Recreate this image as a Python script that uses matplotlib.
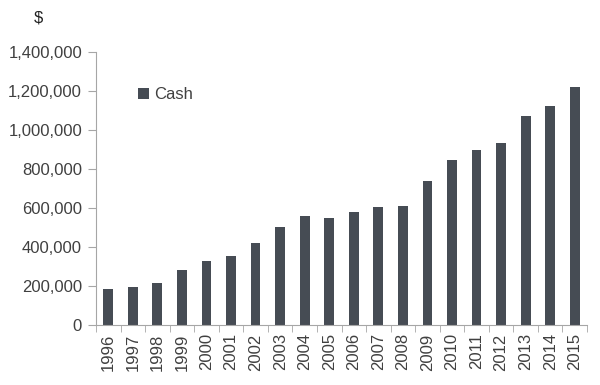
import matplotlib.pyplot as plt
import numpy as np
from matplotlib.ticker import FuncFormatter, MultipleLocator

YEARS = [str(y) for y in range(1996, 2016)]
CASH = [185000, 195000, 217000, 280000, 330000, 355000, 419000, 504000,
        559000, 549000, 578000, 607000, 610000, 738000, 848000, 899000,
        935000, 1070000, 1125000, 1219000]

BAR_COLOR = '#464c54'
TEXT_COLOR = '#404040'
AXIS_COLOR = '#a6a6a6'

plt.rcParams['font.family'] = ['Liberation Sans', 'DejaVu Sans']

fig = plt.figure(figsize=(6, 3.85), dpi=100)
ax = fig.add_axes([96 / 600, 1 - 325 / 385, 491 / 600, 273 / 385])

x = np.arange(len(YEARS))
ax.bar(x, CASH, width=0.4, color=BAR_COLOR, label='Cash')

ax.set_xlim(-0.5, len(YEARS) - 0.5)
ax.set_ylim(0, 1400000)
ax.yaxis.set_major_locator(MultipleLocator(200000))
ax.yaxis.set_major_formatter(FuncFormatter(lambda v, p: '{:,.0f}'.format(v)))

ax.set_xticks(x)
ax.set_xticklabels(YEARS, rotation=90)
ax.set_xticks(np.arange(-0.5, len(YEARS)), minor=True)
ax.tick_params(axis='x', which='major', length=0, pad=6)
ax.tick_params(axis='x', which='minor', length=5, color=AXIS_COLOR)
ax.tick_params(axis='y', length=6, color=AXIS_COLOR, pad=4)
ax.tick_params(labelsize=12, labelcolor=TEXT_COLOR)

for side in ['top', 'right']:
    ax.spines[side].set_visible(False)
for side in ['left', 'bottom']:
    ax.spines[side].set_color(AXIS_COLOR)
    ax.spines[side].set_linewidth(0.8)

ax.legend(loc='upper left', bbox_to_anchor=(0.054, 0.925), frameon=False,
          fontsize=12, handlelength=0.7, handleheight=0.7, handletextpad=0.3,
          labelcolor=TEXT_COLOR)

fig.text(38 / 600, 1 - 18 / 385, '$', fontsize=12, color='#202020',
         ha='center', va='center')

fig.savefig('out.png', dpi=100)
